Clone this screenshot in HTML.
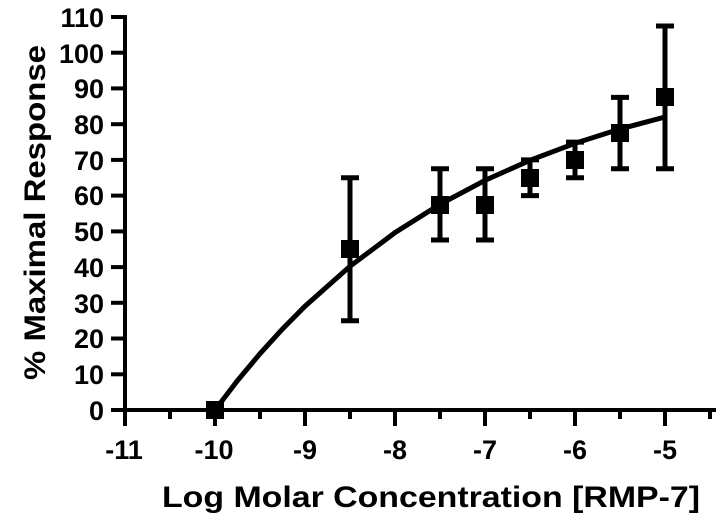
<!DOCTYPE html><html><head><style>body{margin:0;background:#fff}</style></head><body>
<svg width="724" height="522" xmlns="http://www.w3.org/2000/svg" font-family="Liberation Sans, Arial, sans-serif" font-weight="bold">
<g stroke="#000" stroke-width="4" fill="none">
<line x1="125" y1="15" x2="125" y2="412"/>
<line x1="123" y1="410" x2="716" y2="410"/>
</g>
<g stroke="#000" stroke-width="4">
<line x1="111" y1="410" x2="125" y2="410"/><line x1="111" y1="374.3" x2="125" y2="374.3"/><line x1="111" y1="338.5" x2="125" y2="338.5"/><line x1="111" y1="302.8" x2="125" y2="302.8"/><line x1="111" y1="267.1" x2="125" y2="267.1"/><line x1="111" y1="231.4" x2="125" y2="231.4"/><line x1="111" y1="195.6" x2="125" y2="195.6"/><line x1="111" y1="159.9" x2="125" y2="159.9"/><line x1="111" y1="124.2" x2="125" y2="124.2"/><line x1="111" y1="88.4" x2="125" y2="88.4"/><line x1="111" y1="52.7" x2="125" y2="52.7"/><line x1="111" y1="17" x2="125" y2="17"/>
<line x1="125" y1="410" x2="125" y2="426"/><line x1="215" y1="410" x2="215" y2="426"/><line x1="305" y1="410" x2="305" y2="426"/><line x1="395" y1="410" x2="395" y2="426"/><line x1="485" y1="410" x2="485" y2="426"/><line x1="575" y1="410" x2="575" y2="426"/><line x1="665" y1="410" x2="665" y2="426"/>
<line x1="170" y1="410" x2="170" y2="419"/><line x1="260" y1="410" x2="260" y2="419"/><line x1="350" y1="410" x2="350" y2="419"/><line x1="440" y1="410" x2="440" y2="419"/><line x1="530" y1="410" x2="530" y2="419"/><line x1="620" y1="410" x2="620" y2="419"/><line x1="710" y1="410" x2="710" y2="419"/>
</g>
<g font-size="27" text-anchor="end">
<text x="104" y="420">0</text><text x="104" y="384">10</text><text x="104" y="348">20</text><text x="104" y="313">30</text><text x="104" y="277">40</text><text x="104" y="241">50</text><text x="104" y="205">60</text><text x="104" y="170">70</text><text x="104" y="134">80</text><text x="104" y="98">90</text><text x="104" y="63">100</text><text x="104" y="27">110</text>
</g>
<g font-size="27" text-anchor="middle">
<text x="124" y="459">-11</text><text x="214" y="459">-10</text><text x="305" y="459">-9</text><text x="395" y="459">-8</text><text x="485" y="459">-7</text><text x="575" y="459">-6</text><text x="665" y="459">-5</text>
</g>
<text x="162" y="507" font-size="30" textLength="538" lengthAdjust="spacingAndGlyphs">Log Molar Concentration [RMP-7]</text>
<text transform="translate(45,380) rotate(-90)" font-size="30" textLength="335" lengthAdjust="spacingAndGlyphs">% Maximal Response</text>
<polyline fill="none" stroke="#000" stroke-width="5" points="215,410 237.5,380.6 260,353.7 282.5,329 305,306.2 350,266.3 395,232.6 440,204.3 485,180.4 530,160.3 575,143.3 620,129 665,117"/>
<g stroke="#000" stroke-width="5">
<line x1="350" y1="320.7" x2="350" y2="177.8"/><line x1="341" y1="320.7" x2="359" y2="320.7"/><line x1="341" y1="177.8" x2="359" y2="177.8"/>
<line x1="440" y1="240" x2="440" y2="168.8"/><line x1="431" y1="240" x2="449" y2="240"/><line x1="431" y1="168.8" x2="449" y2="168.8"/>
<line x1="485" y1="240" x2="485" y2="168.8"/><line x1="476" y1="240" x2="494" y2="240"/><line x1="476" y1="168.8" x2="494" y2="168.8"/>
<line x1="530" y1="195.6" x2="530" y2="159.9"/><line x1="521" y1="195.6" x2="539" y2="195.6"/><line x1="521" y1="159.9" x2="539" y2="159.9"/>
<line x1="575" y1="177.8" x2="575" y2="142.1"/><line x1="566" y1="177.8" x2="584" y2="177.8"/><line x1="566" y1="142.1" x2="584" y2="142.1"/>
<line x1="620" y1="168.8" x2="620" y2="97.4"/><line x1="611" y1="168.8" x2="629" y2="168.8"/><line x1="611" y1="97.4" x2="629" y2="97.4"/>
<line x1="665" y1="168.8" x2="665" y2="26"/><line x1="656" y1="168.8" x2="674" y2="168.8"/><line x1="656" y1="26" x2="674" y2="26"/>
</g>
<g fill="#000">
<rect x="206" y="401" width="18" height="18"/>
<rect x="341" y="240" width="18" height="18"/>
<rect x="431" y="196" width="18" height="18"/>
<rect x="476" y="196" width="18" height="18"/>
<rect x="521" y="169" width="18" height="18"/>
<rect x="566" y="151" width="18" height="18"/>
<rect x="611" y="124" width="18" height="18"/>
<rect x="656" y="88" width="18" height="18"/>
</g>
</svg>
</body></html>
